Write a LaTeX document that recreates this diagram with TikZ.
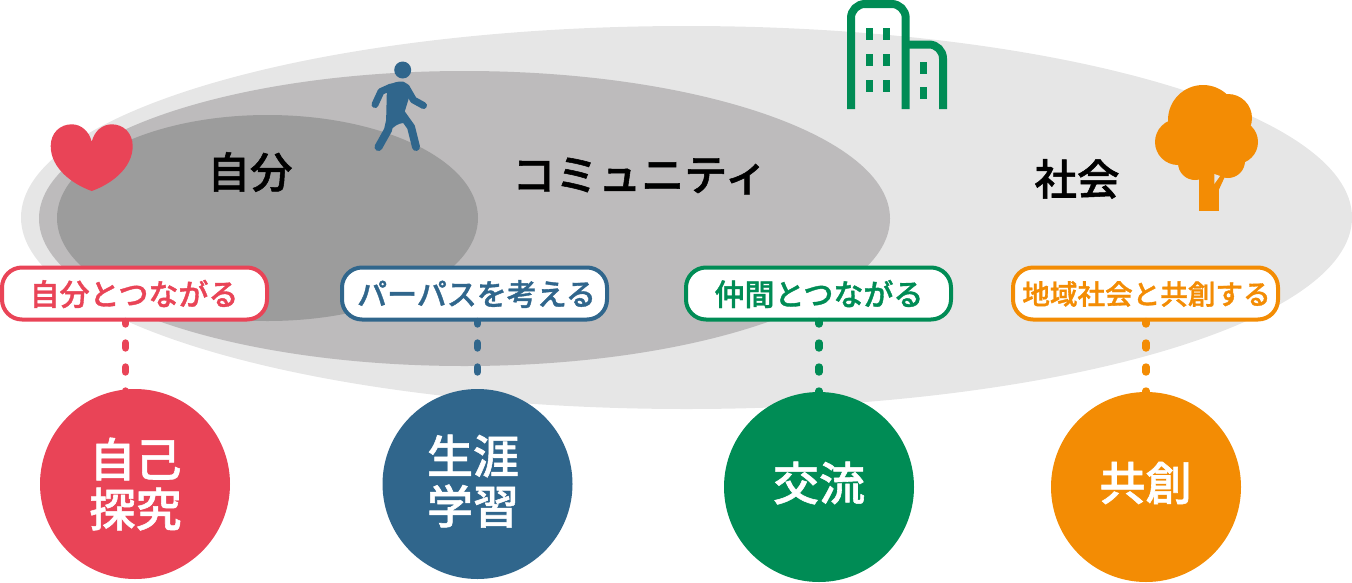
\documentclass[tikz,border=0pt]{standalone}
\usepackage{fontspec}
\setmainfont{Noto Sans CJK JP}
\newfontfamily\zonefont{Noto Sans CJK JP Medium}[FakeBold=1.2]
\definecolor{cred}{HTML}{E94457}
\definecolor{cblue}{HTML}{30668C}
\definecolor{cgreen}{HTML}{008C55}
\definecolor{corange}{HTML}{F38C04}
\definecolor{gA}{HTML}{E6E6E6}
\definecolor{gB}{HTML}{BDBBBC}
\definecolor{gC}{HTML}{9C9C9C}
\tikzset{
  zone/.style={font=\zonefont\fontsize{42.5}{42.5}\selectfont,text=black,inner sep=0pt},
  pill/.style={draw=#1,fill=white,line width=4pt,rounded corners=20pt,minimum width=265pt,minimum height=52pt,inner sep=0pt},
  pilltext/.style={text=#1,inner sep=0pt,font=\zonefont\fontsize{30}{30}\selectfont},
  disc/.style={circle,fill=#1,minimum size=190pt,inner sep=0pt},
  disctext/.style={text=white,inner sep=0pt,font=\zonefont\fontsize{46}{46}\selectfont},
  conn/.style={draw=#1,line width=7.4pt,line cap=round,dash pattern=on 5pt off 19pt,dash phase=2.5pt},
  limb/.style={draw=cblue,line width=8pt,line cap=round,line join=round},
  bldg/.style={draw=cgreen,line width=8pt,line join=round},
  win/.style={fill=cgreen}
}
\begin{document}
\begin{tikzpicture}[x=1pt,y=-1pt]
\useasboundingbox (0,0) rectangle (1352,582);
% zones
\fill[gA] (686.5,217.5) ellipse [x radius=665.5,y radius=191.5];
\fill[gB] (464.5,218.5) ellipse [x radius=425.5,y radius=147.5];
\fill[gC] (267.5,218) ellipse [x radius=210.5,y radius=103];
\node[zone] (zself) at (250,172) {自分};
\node[zone,font=\zonefont\fontsize{43}{43}\selectfont] (zcomm) at (640,176) {コミュニティ};
\node[zone] (zsoc) at (1077,179) {社会};
% heart
\fill[cred] (91.7,191) .. controls (72,184) and (50.7,168) .. (50.7,146)
  .. controls (50.7,133) and (60,124.3) .. (71.7,124.3)
  .. controls (81,124.3) and (89,131) .. (91.7,141.7)
  .. controls (94.4,131) and (102.4,124.3) .. (111.7,124.3)
  .. controls (123.4,124.3) and (132.7,133) .. (132.7,146)
  .. controls (132.7,168) and (111.4,184) .. (91.7,191) -- cycle;
% walker
\fill[cblue] (402.7,70) circle [radius=8.5];
\fill[cblue,rounded corners=2pt] (387,85) -- (398,81.5) -- (405,81.5) -- (411,91) -- (404,114) -- (409,122) -- (398,124) -- (390,130) -- (386,125) -- cycle;
\draw[limb,line width=7pt] (391,87) -- (381,91.5) -- (375,104.5);
\draw[limb,line width=7pt] (406,87) -- (413.5,100) -- (423.5,105.5);
\draw[limb] (401,113) -- (411,127) -- (416,147);
\draw[limb] (392,112) -- (388,130) -- (378.5,147);
% building
\draw[bldg,rounded corners=14pt] (851,109) -- (851,4) -- (905.7,4) -- (905.7,109);
\draw[bldg,rounded corners=14pt] (905.7,44.5) -- (943,44.5) -- (943,109);
\foreach \wx in {866,883}{\foreach \wy in {28,54,80}{
  \fill[win] (\wx,\wy) rectangle ++(7.3,12);}}
\foreach \wy in {61.7,86.7}{\fill[win] (919.7,\wy) rectangle ++(7.3,12);}
% tree
\fill[corange] (1203,120) circle [radius=35];
\fill[corange] (1228,118) circle [radius=24];
\fill[corange] (1178,142) circle [radius=23];
\fill[corange] (1236,142) circle [radius=22];
\fill[corange] (1195,163) circle [radius=17];
\fill[corange] (1228,161) circle [radius=17];
\fill[corange] (1205,140) circle [radius=28];
\fill[corange] (1199,160) rectangle (1218.7,210.5);
\fill[corange] (1218.7,190) -- (1227,172) -- (1205,172) -- cycle;
\fill[gA] (1214.3,174) -- (1214.3,184) -- (1220,176) -- cycle;
% discs
\node[disc=cred] (dred) at (135,484) {};
\node[disc=cblue] (dblue) at (477.5,484) {};
\node[disc=cgreen] (dgreen) at (819,487) {};
\node[disc=corange] (dorange) at (1146,487) {};
% labels
\node[pill=cred] (pred) at (134.5,293.5) {};
\node[pill=cblue] (pblue) at (474.5,293.5) {};
\node[pill=cgreen] (pgreen) at (818.5,293.5) {};
\node[pill=corange] (porange) at (1145.5,293.5) {};
\node[pilltext=cred] (l1) at (134,294) {自分とつながる};
\node[pilltext=cblue] (l2) at (476.5,294) {パーパスを考える};
\node[pilltext=cgreen] (l3) at (819,294) {仲間とつながる};
\node[pilltext=corange,font=\zonefont\fontsize{27.6}{27.6}\selectfont] (l4) at (1146.5,294) {地域社会と共創する};
% connectors
\path (pred.south) ++(-9,0) coordinate (sred);
\path (pblue.south) ++(3,0) coordinate (sblue);
\path (pgreen.south) ++(0.5,0) coordinate (sgreen);
\path (porange.south) ++(0.5,0) coordinate (sorange);
\draw[conn=cred] (sred) -- (sred |- dred);
\draw[conn=cblue] (sblue) -- (dblue);
\draw[conn=cgreen] (sgreen) -- (dgreen);
\draw[conn=corange] (sorange) -- (dorange);
% disc texts, above the connector ends
\node[disctext] (t1a) at (135.5,459) {自己};
\node[disctext] (t1b) at (135.5,509) {探究};
\node[disctext] (t2a) at (473,456) {生涯};
\node[disctext] (t2b) at (473,506) {学習};
\node[disctext] (t3) at (819,483) {交流};
\node[disctext] (t4) at (1145.5,483) {共創};
\end{tikzpicture}
\end{document}
